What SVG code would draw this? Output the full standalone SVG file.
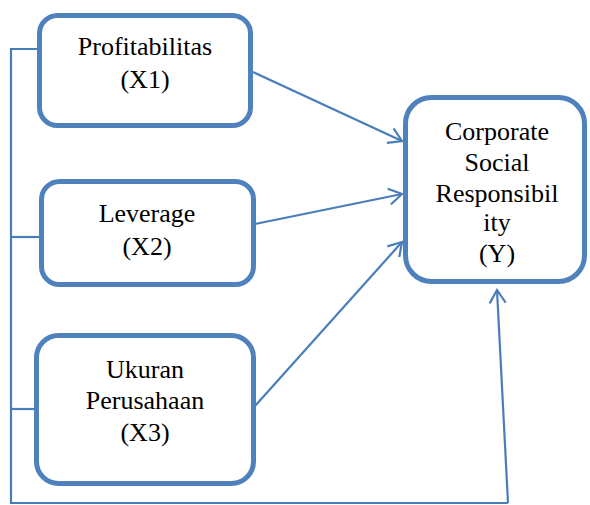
<svg xmlns="http://www.w3.org/2000/svg" width="590" height="505" viewBox="0 0 590 505">
<style>
.box{fill:#fff;stroke:#4F81BD;stroke-width:5}
.lbl{font-family:"Liberation Serif","Times New Roman",serif;font-size:26px;fill:#000;text-anchor:middle}
.con{fill:none;stroke:#4A7EBB;stroke-width:2.2}
</style>
<defs>
<marker id="arr" markerUnits="userSpaceOnUse" viewBox="-15 -11 17 22" markerWidth="17" markerHeight="22" refX="0" refY="0" orient="auto">
<path d="M-13,-8 L0,0 L-13,8" fill="none" stroke="#4A7EBB" stroke-width="2.2"/>
</marker>
</defs>
<g id="connectors">
<path class="con" d="M37,49 H11 V503 H508"/>
<path class="con" d="M11,237 H39"/>
<path class="con" d="M11,409 H34"/>
<path class="con" d="M508,503 L497,290" marker-end="url(#arr)"/>
<path class="con" d="M253,72 L402,141" marker-end="url(#arr)"/>
<path class="con" d="M255,224 L402,194" marker-end="url(#arr)"/>
<path class="con" d="M255,406 L402,242" marker-end="url(#arr)"/>
</g>
<g id="x1">
<rect class="box" x="39.5" y="15.5" width="211" height="110" rx="18"/>
<text class="lbl" x="145" y="55">Profitabilitas</text>
<text class="lbl" x="145" y="88">(X1)</text>
</g>
<g id="x2">
<rect class="box" x="41.5" y="181.5" width="212" height="103" rx="18"/>
<text class="lbl" x="147" y="222">Leverage</text>
<text class="lbl" x="147" y="255">(X2)</text>
</g>
<g id="x3">
<rect class="box" x="36.5" y="335.5" width="217" height="148" rx="22"/>
<text class="lbl" x="145" y="378">Ukuran</text>
<text class="lbl" x="145" y="409">Perusahaan</text>
<text class="lbl" x="145" y="441">(X3)</text>
</g>
<g id="y">
<rect class="box" x="405.5" y="97.5" width="179" height="184" rx="26"/>
<text class="lbl" x="497" y="140">Corporate</text>
<text class="lbl" x="497" y="171">Social</text>
<text class="lbl" x="497" y="202">Responsibil</text>
<text class="lbl" x="497" y="231">ity</text>
<text class="lbl" x="497" y="262">(Y)</text>
</g>
</svg>
